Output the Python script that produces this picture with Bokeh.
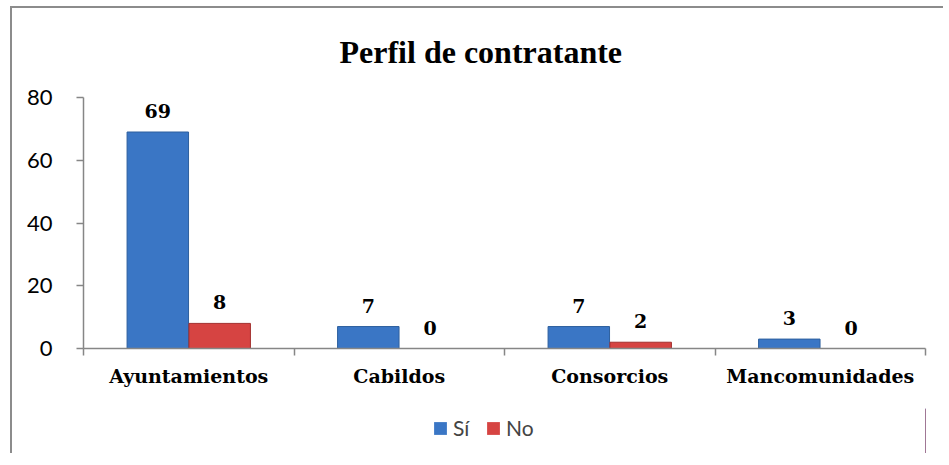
from bokeh.plotting import figure
from bokeh.layouts import column
from bokeh.models import (ColumnDataSource, Range1d, LinearAxis,
                          FixedTicker, Legend, LegendItem, Title)
from bokeh.transform import dodge
from bokeh.core.properties import value
from bokeh.embed import file_html
from bokeh.resources import INLINE

# ---- data ----
categories = ["Ayuntamientos", "Cabildos", "Consorcios", "Mancomunidades"]
si_values = [69, 7, 7, 3]
no_values = [8, 0, 2, 0]
series_names = ["Sí", "No"]
y_ticks = [0, 20, 40, 60, 80]
title_text = "Perfil de contratante"

# ---- styles ----
BLUE = "#3A76C5"
BLUE_EDGE = "#2D5F9E"
RED = "#D64442"
RED_EDGE = "#A3302E"
AXIS_GRAY = "#868686"
SERIF = "DejaVu Serif"
SANS = "Lato"

n = len(categories)
centers = [i + 0.5 for i in range(n)]
edges = list(range(n + 1))

src = ColumnDataSource(dict(
    xc=centers,
    si=si_values,
    no=no_values,
    si_lbl=[str(v) for v in si_values],
    no_lbl=[str(v) for v in no_values],
))

p = figure(width=931, height=400,
           x_range=Range1d(0, n),
           y_range=Range1d(y_ticks[0], y_ticks[-1]),
           output_backend="svg", toolbar_location=None,
           x_axis_location=None, y_axis_location=None,
           min_border_left=71, min_border_right=18,
           min_border_top=85, min_border_bottom=60)
p.outline_line_color = None
p.xgrid.visible = False
p.ygrid.visible = False
p.background_fill_color = "white"
p.border_fill_color = "white"

p.title = Title(text=title_text, align="left", offset=256, vertical_align="top",
                text_font="Liberation Serif", text_font_style="bold",
                text_font_size="32px", text_color="black", standoff=51)

# y axis
yax = LinearAxis(ticker=FixedTicker(ticks=y_ticks),
                 major_tick_out=7, major_tick_in=0,
                 minor_tick_out=0, minor_tick_in=0,
                 axis_line_color=AXIS_GRAY, axis_line_width=1.5,
                 major_tick_line_color=AXIS_GRAY, major_tick_line_width=1.5,
                 major_label_text_font=SANS, major_label_text_font_size="22px",
                 major_label_text_color="black", major_label_standoff=24)
p.add_layout(yax, "left")

# x axis: category boundary ticks (no labels)
edge_axis = LinearAxis(ticker=FixedTicker(ticks=edges),
                       major_label_overrides={e: "" for e in edges},
                       major_tick_out=7, major_tick_in=0,
                       minor_tick_out=0, minor_tick_in=0,
                       axis_line_color=AXIS_GRAY, axis_line_width=1.5,
                       major_tick_line_color=AXIS_GRAY, major_tick_line_width=1.5,
                       major_label_standoff=0)
p.add_layout(edge_axis, "below")

# x axis: category names at centers
cat_axis = LinearAxis(ticker=FixedTicker(ticks=centers),
                      major_label_overrides={c: name for c, name in zip(centers, categories)},
                      axis_line_color=None, major_tick_line_color=None,
                      minor_tick_line_color=None,
                      major_label_text_font=SERIF, major_label_text_font_style="bold",
                      major_label_text_font_size="19px", major_label_text_color="black",
                      major_label_standoff=3)
p.add_layout(cat_axis, "below")

# bars
off = 0.147
bw = 0.292
p.vbar(x=dodge("xc", -off), top="si", width=bw, source=src,
       fill_color=BLUE, line_color=BLUE_EDGE, line_width=1)
p.vbar(x=dodge("xc", off), top="no", width=bw, source=src,
       fill_color=RED, line_color=RED_EDGE, line_width=1)

# data labels
for col, lbl, o in (("si", "si_lbl", -off), ("no", "no_lbl", off)):
    p.text(x=dodge("xc", o), y=col, text=lbl, source=src,
           text_font=value(SERIF), text_font_style="bold", text_font_size="19px",
           text_color="black", text_align="center", text_baseline="bottom",
           y_offset=-14)

# legend strip below the chart (its view range lies away from the data,
# so its renderers only serve as legend swatches)
lf = figure(width=931, height=45, x_range=Range1d(-2, -1), y_range=Range1d(0, 1),
            output_backend="svg", toolbar_location=None,
            x_axis_location=None, y_axis_location=None, min_border=0)
lf.outline_line_color = None
lf.xgrid.visible = False
lf.ygrid.visible = False
l_si = lf.vbar(x="xc", top="si", width=bw, source=src,
               fill_color=BLUE, line_color=None)
l_no = lf.vbar(x="xc", top="no", width=bw, source=src,
               fill_color=RED, line_color=None)
legend = Legend(items=[LegendItem(label=series_names[0], renderers=[l_si]),
                       LegendItem(label=series_names[1], renderers=[l_no])],
                orientation="horizontal", location=(349, 13),
                border_line_color=None, background_fill_alpha=0,
                label_text_font=SANS, label_text_font_size="21px",
                glyph_width=16, glyph_height=16, spacing=12,
                label_standoff=5, padding=0, margin=0)
lf.add_layout(legend, "center")

layout = column(p, lf, spacing=0,
                styles={"border-left": "2px solid #8c8c8c", "border-top": "2px solid #8c8c8c",
                        "margin-left": "10px", "margin-top": "6px"})

open("out.html", "w").write(file_html(layout, INLINE))
